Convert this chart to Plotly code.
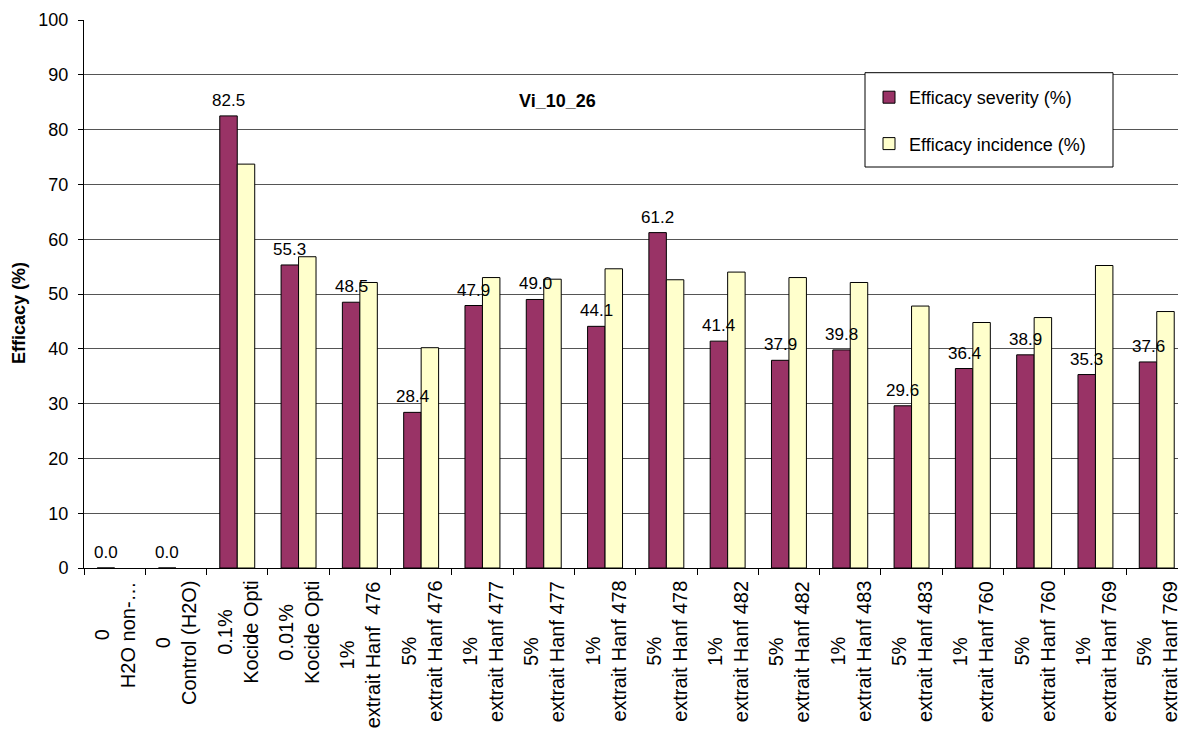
import plotly.graph_objects as go

categories = [
    "0<br>H2O non-…", "0<br>Control (H2O)", "0.1%<br>Kocide Opti", "0.01%<br>Kocide Opti",
    "1%<br>extrait Hanf\u00a0\u00a0476", "5%<br>extrait Hanf 476", "1%<br>extrait Hanf 477", "5%<br>extrait Hanf 477",
    "1%<br>extrait Hanf 478", "5%<br>extrait Hanf 478", "1%<br>extrait Hanf 482", "5%<br>extrait Hanf 482",
    "1%<br>extrait Hanf 483", "5%<br>extrait Hanf 483", "1%<br>extrait Hanf 760", "5%<br>extrait Hanf 760",
    "1%<br>extrait Hanf 769", "5%<br>extrait Hanf 769",
]
severity = [0.0, 0.0, 82.5, 55.3, 48.5, 28.4, 47.9, 49.0, 44.1, 61.2, 41.4, 37.9, 39.8, 29.6, 36.4, 38.9, 35.3, 37.6]
incidence = [None, None, 73.7, 56.8, 52.1, 40.2, 53.0, 52.7, 54.6, 52.6, 54.0, 53.0, 52.1, 47.8, 44.8, 45.7, 55.2, 46.8]

FONT = "Arial, Liberation Sans, sans-serif"
W, H = 1178, 731
L, R, T, B = 84, 0, 20, 163
PW, PH = W - L - R, H - T - B
CAT_PX = 61.3

def px_x(x):
    return (x - L) / PW

def px_y(y):
    return (H - B - y) / PH

fig = go.Figure()
fig.add_trace(go.Bar(x=categories, y=severity, name="Efficacy severity (%)", legendgroup="a",
                     marker=dict(color="#993366", line=dict(color="black", width=1))))
fig.add_trace(go.Bar(x=categories, y=incidence, name="Efficacy incidence (%)", legendgroup="b",
                     marker=dict(color="#FFFFCC", line=dict(color="black", width=1))))

ann = []
for c, v in zip(categories, severity):
    ann.append(dict(x=c, y=v, xref="x", yref="y", text=f"{v:.1f}", showarrow=False,
                    xanchor="center", yanchor="bottom", xshift=-8.75, yshift=4,
                    font=dict(family=FONT, size=17, color="black")))
for c in categories:
    ann.append(dict(x=c, y=0, xref="x", yref="paper", text=c, showarrow=False, textangle=-90,
                    xanchor="center", yanchor="top", yshift=-11, align="center",
                    font=dict(family=FONT, size=20, color="black")))
ann.append(dict(x=px_x(557), y=px_y(101), xref="paper", yref="paper", text="<b>Vi_10_26</b>",
                showarrow=False, xanchor="center", yanchor="middle",
                font=dict(family=FONT, size=18, color="black")))
ann.append(dict(x=px_x(19), y=px_y(313), xref="paper", yref="paper", text="<b>Efficacy (%)</b>",
                showarrow=False, xanchor="center", yanchor="middle", textangle=-90,
                font=dict(family=FONT, size=18, color="black")))

fig.update_layout(
    width=W, height=H,
    margin=dict(l=L, r=R, t=T, b=B, pad=0),
    paper_bgcolor="white", plot_bgcolor="white",
    barmode="group", bargap=0.43, bargroupgap=0,
    font=dict(family=FONT, size=17, color="black"),
    annotations=ann,
    shapes=[dict(type="rect", xref="paper", yref="paper", layer="above",
                 x0=px_x(865), x1=px_x(1113), y0=px_y(167), y1=px_y(72.7),
                 fillcolor="white", line=dict(color="black", width=1))],
    legend=dict(x=px_x(869), y=px_y(79), xanchor="left", yanchor="top",
                bgcolor="rgba(0,0,0,0)", borderwidth=0, traceorder="grouped", tracegroupgap=20,
                font=dict(family=FONT, size=18, color="black")),
    xaxis=dict(type="category", range=[-0.5, -0.5 + PW / CAT_PX], showticklabels=False,
               tickson="boundaries", ticks="outside", ticklen=6, tickcolor="black",
               showline=True, linecolor="black", linewidth=1, showgrid=False, zeroline=False, fixedrange=True),
    yaxis=dict(range=[0, 100], dtick=10, ticks="outside", ticklen=5, tickcolor="black",
               ticklabelstandoff=6,
               showline=True, linecolor="black", linewidth=1, showgrid=True, gridcolor="#555555",
               gridwidth=1, zeroline=False, tickfont=dict(family=FONT, size=18, color="black")),
    showlegend=True,
)

fig.write_html("out.html")
